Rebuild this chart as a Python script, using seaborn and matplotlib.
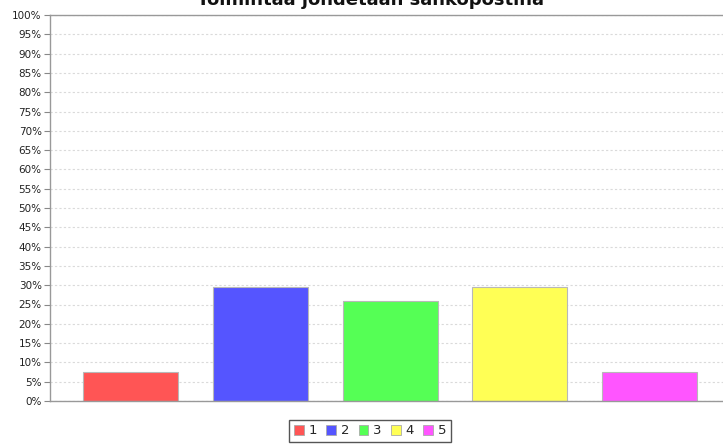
import matplotlib
matplotlib.use("Agg")
import matplotlib.pyplot as plt
from matplotlib.patches import Patch
from matplotlib.ticker import MultipleLocator, FuncFormatter
import seaborn as sns
import pandas as pd

# Answer shares per option (percent of respondents)
categories = ["1", "2", "3", "4", "5"]
shares = [7.41, 29.63, 25.93, 29.63, 7.41]
colors = ["#FF5555", "#5555FF", "#55FF55", "#FFFF55", "#FF55FF"]
title = "Toimintaa johdetaan sähköpostina"

df = pd.DataFrame({"vaihtoehto": categories, "osuus": shares})

sns.set_style("white")
plt.rcParams["font.family"] = ["DejaVu Sans"]

fig = plt.figure(figsize=(7.23, 4.45), dpi=100)
W, H = 723, 445
ax = fig.add_axes([50 / W, (H - 401) / H, (W - 50) / W, 386 / H])

sns.barplot(data=df, x="vaihtoehto", y="osuus", hue="vaihtoehto",
            palette=colors, width=0.732, legend=False, ax=ax,
            edgecolor="#B8B8B8", linewidth=0.8, saturation=1)

ax.set_xlim(-0.62, 4.566)
ax.set_ylim(0, 100)
ax.yaxis.set_major_locator(MultipleLocator(5))
ax.yaxis.set_major_formatter(FuncFormatter(lambda v, _: f"{v:.0f}%"))
ax.grid(axis="y", color="#DADADA", linestyle=(0, (2, 2)), linewidth=0.8)
ax.set_axisbelow(True)
ax.set_xticks([])
ax.set_xlabel("")
ax.set_ylabel("")
ax.tick_params(axis="y", which="major", length=4, width=0.8, color="#888888",
               labelsize=7.5, pad=2, labelcolor="#222222", left=True)

for side in ("left", "bottom", "top"):
    ax.spines[side].set_color("#999999")
    ax.spines[side].set_linewidth(1.0)
ax.spines["right"].set_visible(False)

# The title sits at the very top edge of the canvas
fig.text(371 / W, 1 - 5 / H, title, ha="center", va="baseline",
         fontsize=13, fontweight="bold", color="#111111")

handles = [Patch(facecolor=c, edgecolor="#AAAAAA", linewidth=0.6) for c in colors]
fig.legend(handles, categories, loc="center", bbox_to_anchor=(370 / W, (H - 431) / H),
           ncol=5, fontsize=9.5, frameon=True, fancybox=False, framealpha=1,
           edgecolor="#555555", handlelength=0.75, handleheight=0.75,
           handletextpad=0.35, columnspacing=0.7, borderpad=0.35)

fig.savefig("out.png", dpi=100, facecolor="white")
